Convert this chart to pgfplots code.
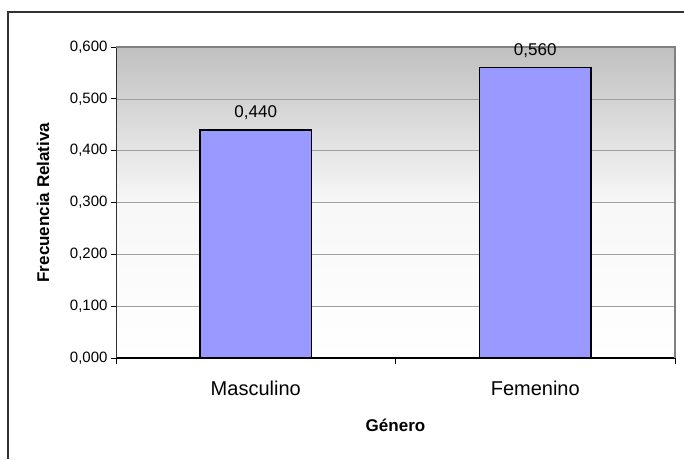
\documentclass[border=0pt]{standalone}
\usepackage{fontspec}
\setmainfont{Liberation Sans}
\usepackage{pgfplots}
\pgfplotsset{compat=1.18}
\definecolor{barfill}{RGB}{153,153,255}
\definecolor{gridc}{RGB}{160,160,160}
\definecolor{framec}{RGB}{50,50,50}
\definecolor{borderc}{RGB}{128,128,128}
\definecolor{topgray}{RGB}{192,192,192}
\begin{document}
\begin{tikzpicture}[x=1pt,y=1pt]
\path[use as bounding box] (0,0) rectangle (684,459);
\draw[framec, line width=1.5pt] (8,0) -- (8,447) -- (684,447);
\begin{axis}[
  at={(116pt,101pt)}, anchor=south west,
  scale only axis, width=559pt, height=311pt,
  xmin=-0.5, xmax=1.5, ymin=0, ymax=0.6,
  axis background/.style={shade, top color=topgray, bottom color=white, middle color=white!88!topgray},
  axis x line*=bottom, axis y line*=left,
  x axis line style={black, line width=1.2pt, -},
  y axis line style={framec, line width=1pt, -},
  xtick={0,1}, xticklabels={Masculino,Femenino},
  major x tick style={draw=none},
  minor xtick={-0.5,0.5,1.5},
  minor x tick style={black, line width=1pt},
  minor tick length=6pt,
  tick align=outside,
  ytick={0,0.1,0.2,0.3,0.4,0.5,0.6},
  major y tick style={black, line width=0.8pt},
  major tick length=5pt,
  ymajorgrids, grid style={gridc, line width=0.6pt},
  yticklabel style={font=\fontsize{15}{17}\selectfont, /pgf/number format/.cd, fixed, fixed zerofill, precision=3, use comma, assume math mode=true},
  xticklabel style={font=\fontsize{20}{23}\selectfont, anchor=base, yshift=-32pt},
  ylabel={\textbf{Frecuencia Relativa}},
  ylabel style={font=\fontsize{17}{19}\selectfont, at={(axis description cs:-0.1306,0.5)}, anchor=center},
  xlabel={\textbf{Género}},
  xlabel style={font=\fontsize{17}{19}\selectfont, at={(axis description cs:0.5,0)}, anchor=base, yshift=-73pt},
  ybar, bar width=0.4,
  nodes near coords,
  every node near coord/.append style={font=\fontsize{17}{19}\selectfont, anchor=base, yshift=12pt, /pgf/number format/.cd, fixed, fixed zerofill, precision=3, use comma, assume math mode=true},
  clip=false,
]
\addplot[fill=barfill, draw=black, line width=1.5pt] coordinates {(0,0.440) (1,0.560)};
\draw[borderc, line width=2pt] (rel axis cs:0,1) -- (rel axis cs:1,1) -- (rel axis cs:1,0);
\end{axis}
\end{tikzpicture}
\end{document}
